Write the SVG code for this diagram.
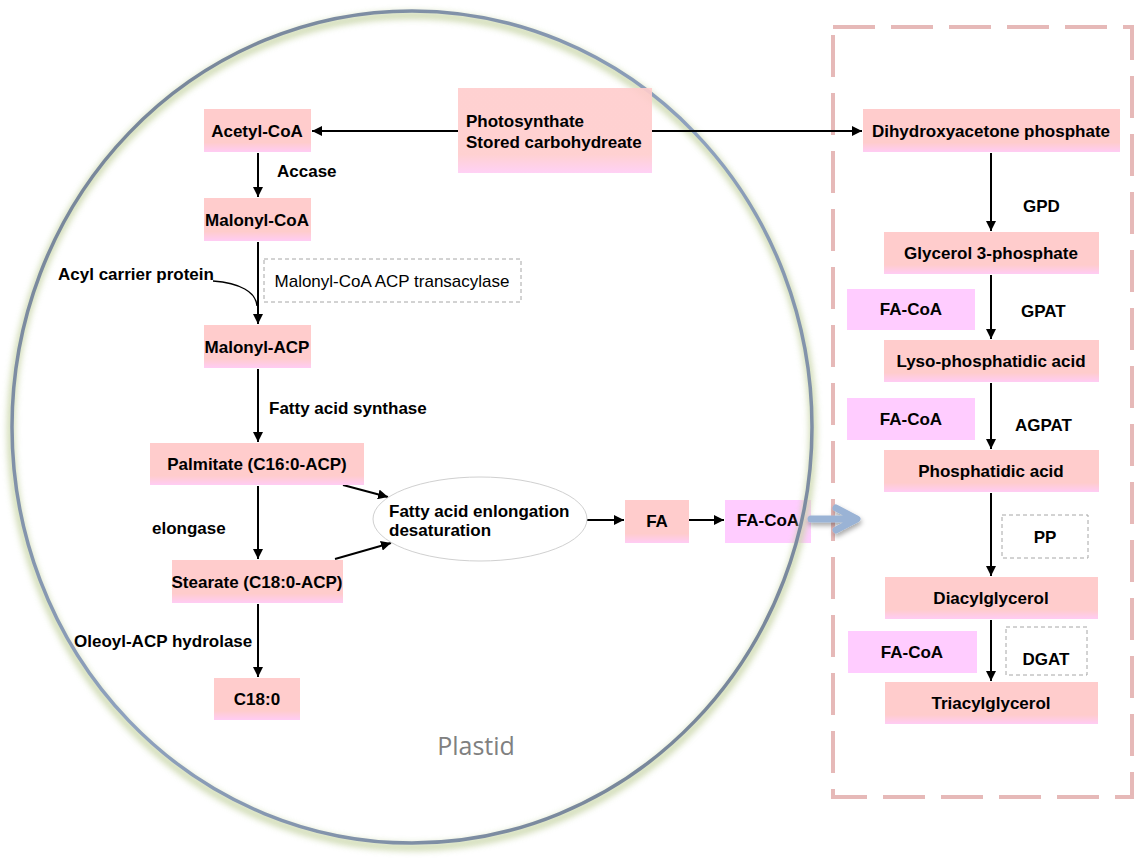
<svg xmlns="http://www.w3.org/2000/svg" width="1135" height="860" viewBox="0 0 1135 860">
<defs>
<linearGradient id="pk" x1="0" y1="0" x2="0" y2="1">
<stop offset="0" stop-color="#ffcccc"/><stop offset="0.78" stop-color="#ffcccc"/><stop offset="1" stop-color="#ffccf4"/>
</linearGradient>
<linearGradient id="ring" x1="0" y1="0" x2="1" y2="1">
<stop offset="0" stop-color="#6f7c8c"/><stop offset="0.5" stop-color="#8fa2bf"/><stop offset="1" stop-color="#6f7c8c"/>
</linearGradient>
<filter id="blur" x="-10%" y="-10%" width="120%" height="120%"><feGaussianBlur stdDeviation="3"/></filter>
<filter id="sh" x="-50%" y="-50%" width="200%" height="200%"><feDropShadow dx="1" dy="3" stdDeviation="2.5" flood-color="#000" flood-opacity="0.35"/></filter>
<marker id="ah" viewBox="0 0 10 10" refX="10" refY="5" markerWidth="5" markerHeight="5" orient="auto" markerUnits="strokeWidth">
<path d="M0,0 L10,5 L0,10 z" fill="#000"/>
</marker>
<style>
.box{fill:url(#pk);}
.mag{fill:#ffccff;}
.bt{font-family:"Liberation Sans",Arial,sans-serif;font-weight:bold;font-size:17px;fill:#000;}
.nt{font-family:"Liberation Sans",Arial,sans-serif;font-size:17px;fill:#000;}
.dash{fill:#fff;stroke:#a6a6a6;stroke-width:1;stroke-dasharray:4 3;}
.arr{stroke:#000;stroke-width:2;fill:none;marker-end:url(#ah);}
</style>
</defs>
<rect width="1135" height="860" fill="#fff"/>

<g id="facoa0"><rect class="mag" x="725" y="500" width="86" height="43"/><text class="bt" x="768" y="526" text-anchor="middle">FA-CoA</text></g>

<g id="plastid">
<ellipse cx="412" cy="431" rx="401" ry="416" fill="none" stroke="#c9d6a9" stroke-width="8" filter="url(#blur)" opacity="0.85"/>
<ellipse cx="412" cy="427" rx="400" ry="416" fill="none" stroke="url(#ring)" stroke-width="3.5"/>
<text x="476" y="755" text-anchor="middle" font-family="'Open Sans','Liberation Sans',sans-serif" font-size="25" fill="#808080">Plastid</text>
</g>

<g id="er">
<rect x="833" y="27" width="299" height="770" fill="none" stroke="#e6b9b8" stroke-width="4" stroke-dasharray="42 16"/>
</g>

<g id="connectors">
<line class="arr" x1="458" y1="131" x2="312" y2="131"/>
<line class="arr" x1="652" y1="131" x2="862" y2="131"/>
<line class="arr" x1="258" y1="153" x2="258" y2="197"/>
<line class="arr" x1="258" y1="242" x2="258" y2="324"/>
<path d="M213 281 C240 283 256 292 257 306" stroke="#000" stroke-width="1.3" fill="none"/>
<line class="arr" x1="258" y1="369" x2="258" y2="442"/>
<line class="arr" x1="258" y1="486" x2="258" y2="559"/>
<line class="arr" x1="343" y1="485" x2="388" y2="497"/>
<line class="arr" x1="335" y1="559" x2="391" y2="543"/>
<line class="arr" x1="587" y1="520" x2="624" y2="520"/>
<line class="arr" x1="689" y1="520" x2="724" y2="520"/>
<line class="arr" x1="258" y1="604" x2="258" y2="677"/>
<line class="arr" x1="991" y1="153" x2="991" y2="231"/>
<line class="arr" x1="991" y1="275" x2="991" y2="339"/>
<line class="arr" x1="991" y1="383" x2="991" y2="449"/>
<line class="arr" x1="991" y1="493" x2="991" y2="576"/>
<line class="arr" x1="991" y1="620" x2="991" y2="681"/>
</g>

<g id="photosynthate">
<rect class="box" x="458" y="88" width="194" height="85" opacity="0.9"/>
<text class="bt" x="466" y="127">Photosynthate</text>
<text class="bt" x="466" y="148">Stored carbohydreate</text>
</g>
<g id="acetylcoa"><rect class="box" x="204" y="109" width="107" height="43"/><text class="bt" x="257" y="137" text-anchor="middle">Acetyl-CoA</text></g>
<g id="malonylcoa"><rect class="box" x="204" y="198" width="107" height="43"/><text class="bt" x="257" y="226" text-anchor="middle">Malonyl-CoA</text></g>
<g id="transacylase"><rect class="dash" x="264" y="259" width="257" height="43"/><text class="nt" x="392" y="287" text-anchor="middle">Malonyl-CoA ACP transacylase</text></g>
<g id="malonylacp"><rect class="box" x="204" y="325" width="107" height="43"/><text class="bt" x="257" y="353" text-anchor="middle">Malonyl-ACP</text></g>
<g id="palmitate"><rect class="box" x="150" y="443" width="214" height="42"/><text class="bt" x="257" y="470" text-anchor="middle">Palmitate (C16:0-ACP)</text></g>
<g id="stearate"><rect class="box" x="172" y="560" width="171" height="43"/><text class="bt" x="257" y="588" text-anchor="middle">Stearate (C18:0-ACP)</text></g>
<g id="c180"><rect class="box" x="214" y="678" width="86" height="42"/><text class="bt" x="257" y="705" text-anchor="middle">C18:0</text></g>
<g id="elongation">
<ellipse cx="480" cy="519" rx="107" ry="42" fill="#fff" stroke="#d0d0d0" stroke-width="1"/>
<text class="bt" x="389" y="517">Fatty acid enlongation</text>
<text class="bt" x="389" y="536">desaturation</text>
</g>
<g id="fa"><rect class="box" x="625" y="500" width="64" height="43"/><text class="bt" x="657" y="527" text-anchor="middle">FA</text></g>

<g id="transport" filter="url(#sh)">
<path d="M811 519 L855 519 M836 508 L857 519 L836 530" fill="none" stroke="#9ab3d5" stroke-width="7" stroke-linecap="round" stroke-linejoin="round"/>
</g>

<g id="dhap"><rect class="box" x="863" y="109" width="257" height="43"/><text class="bt" x="991" y="137" text-anchor="middle">Dihydroxyacetone phosphate</text></g>
<g id="g3p"><rect class="box" x="884" y="232" width="215" height="42"/><text class="bt" x="991" y="259" text-anchor="middle">Glycerol 3-phosphate</text></g>
<g id="facoa1"><rect class="mag" x="847" y="289" width="128" height="41"/><text class="bt" x="911" y="315" text-anchor="middle">FA-CoA</text></g>
<g id="lpa"><rect class="box" x="884" y="340" width="215" height="42"/><text class="bt" x="991" y="367" text-anchor="middle">Lyso-phosphatidic acid</text></g>
<g id="facoa2"><rect class="mag" x="847" y="398" width="128" height="42"/><text class="bt" x="911" y="425" text-anchor="middle">FA-CoA</text></g>
<g id="pa"><rect class="box" x="884" y="450" width="215" height="42"/><text class="bt" x="991" y="477" text-anchor="middle">Phosphatidic acid</text></g>
<g id="pp"><rect class="dash" x="1002" y="515" width="86" height="43"/><text class="bt" x="1045" y="543" text-anchor="middle">PP</text></g>
<g id="dag"><rect class="box" x="885" y="577" width="213" height="42"/><text class="bt" x="991" y="604" text-anchor="middle">Diacylglycerol</text></g>
<g id="facoa3"><rect class="mag" x="848" y="631" width="129" height="42"/><text class="bt" x="912" y="658" text-anchor="middle">FA-CoA</text></g>
<g id="dgat"><rect class="dash" x="1006" y="627" width="81" height="48"/><text class="bt" x="1046" y="665" text-anchor="middle">DGAT</text></g>
<g id="tag"><rect class="box" x="885" y="682" width="213" height="42"/><text class="bt" x="991" y="709" text-anchor="middle">Triacylglycerol</text></g>

<g id="labels">
<text class="bt" x="277" y="177">Accase</text>
<text class="bt" x="58" y="280">Acyl carrier protein</text>
<text class="bt" x="269" y="414">Fatty acid synthase</text>
<text class="bt" x="152" y="534">elongase</text>
<text class="bt" x="74" y="647">Oleoyl-ACP hydrolase</text>
<text class="bt" x="1023" y="212">GPD</text>
<text class="bt" x="1021" y="317">GPAT</text>
<text class="bt" x="1015" y="431">AGPAT</text>
</g>
</svg>
